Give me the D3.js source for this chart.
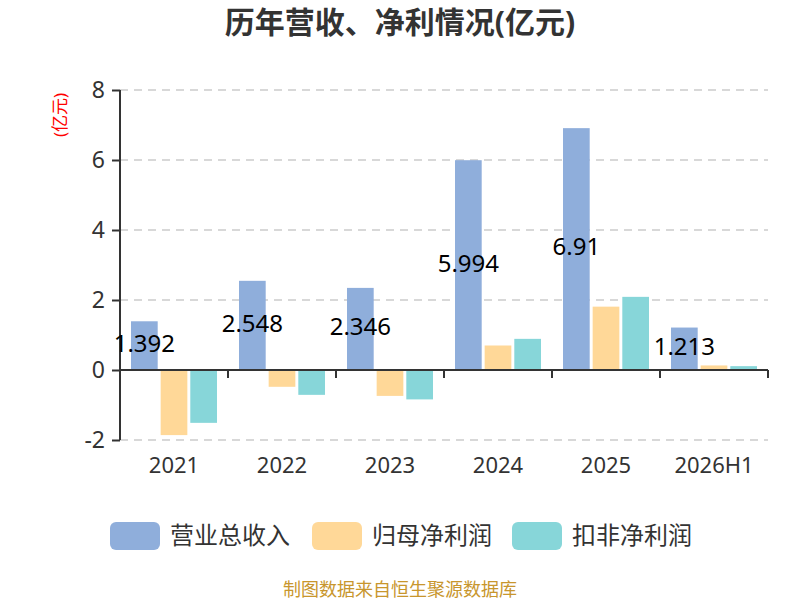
<!DOCTYPE html>
<html>
<head>
<meta charset="utf-8">
<script src="https://cdn.jsdelivr.net/npm/d3@7"></script>
<style>
  body { margin: 0; background: #fff; }
  svg { font-family: 'Noto Sans', 'Noto Sans CJK SC', sans-serif; }
</style>
</head>
<body>
<svg id="chart" width="800" height="600"></svg>
<script>
const categories = ['2021', '2022', '2023', '2024', '2025', '2026H1']
const seriesNames = ['营业总收入', '归母净利润', '扣非净利润']
const revenue = [1.392, 2.548, 2.346, 5.994, 6.91, 1.213]
const netProfit = [-1.86, -0.48, -0.74, 0.70, 1.81, 0.13]
const deductedProfit = [-1.51, -0.71, -0.84, 0.89, 2.09, 0.11]
const yTicks = [-2, 0, 2, 4, 6, 8]
const colors = ['#8faedb', '#ffd898', '#87d6d9']

const series = [revenue, netProfit, deductedProfit]

const svg = d3.select('#chart')
const margin = { left: 120, right: 32, top: 90, bottom: 160 }
const width = 800

const x = d3.scaleBand()
  .domain(categories)
  .range([margin.left, width - margin.right])

const x1 = d3.scaleBand()
  .domain(d3.range(series.length))
  .range([11, x.bandwidth() - 11])
  .paddingInner(0.1)

const y = d3.scaleLinear()
  .domain([-2, 8])
  .range([440, margin.top])

// title
svg.append('text')
  .attr('x', 400).attr('y', 33)
  .attr('text-anchor', 'middle')
  .attr('font-size', 30).attr('font-weight', 'bold')
  .attr('fill', '#333')
  .text('历年营收、净利情况(亿元)')

// y axis name
svg.append('text')
  .attr('transform', 'translate(66,115) rotate(-90)')
  .attr('text-anchor', 'middle')
  .attr('font-size', 17)
  .attr('fill', 'red')
  .text('(亿元)')

// grid
svg.append('g')
  .selectAll('line')
  .data(yTicks.filter(d => d !== 0))
  .join('line')
  .attr('x1', margin.left).attr('x2', width - margin.right)
  .attr('y1', d => y(d)).attr('y2', d => y(d))
  .attr('stroke', '#ccc').attr('stroke-width', 1.5)
  .attr('stroke-dasharray', '8,6')

// y axis
const yAxis = svg.append('g')
  .attr('transform', `translate(${margin.left},0)`)
  .call(d3.axisLeft(y).tickValues(yTicks).tickSize(8).tickPadding(7).tickFormat(d => String(d)))
yAxis.select('.domain').attr('stroke', '#333').attr('stroke-width', 2)
  .attr('d', `M0,${y(-2)}V${y(8)}`)
yAxis.selectAll('.tick line').attr('stroke', '#333').attr('stroke-width', 2)
yAxis.selectAll('.tick text').attr('fill', '#333').attr('font-size', 23)
  .attr('font-family', "'Noto Sans', sans-serif")

// bars
const groups = svg.append('g')
  .selectAll('g')
  .data(categories)
  .join('g')
  .attr('transform', d => `translate(${x(d)},0)`)

groups.selectAll('rect')
  .data((d, i) => series.map((s, k) => ({ k, v: s[i] })))
  .join('rect')
  .attr('x', d => x1(d.k))
  .attr('width', x1.bandwidth())
  .attr('y', d => Math.min(y(d.v), y(0)))
  .attr('height', d => Math.abs(y(d.v) - y(0)))
  .attr('fill', d => colors[d.k])

// value labels on revenue
svg.append('g')
  .selectAll('text')
  .data(categories)
  .join('text')
  .attr('x', (d) => x(d) + x1(0) + x1.bandwidth() / 2)
  .attr('y', (d, i) => (y(revenue[i]) + y(0)) / 2 - 2)
  .attr('dy', '0.35em')
  .attr('text-anchor', 'middle')
  .attr('font-size', 24)
  .attr('fill', '#000')
  .text((d, i) => revenue[i])

// x axis at zero
const xAxis = svg.append('g')
  .attr('transform', `translate(0,${y(0)})`)
  .call(d3.axisBottom(x).tickSize(0).tickPadding(0))
xAxis.select('.domain').attr('stroke', '#333').attr('stroke-width', 2)
  .attr('d', `M${margin.left},0H${width - margin.right}`)
xAxis.selectAll('.tick text')
  .attr('y', y(-2) - y(0) + 17)
  .attr('fill', '#333').attr('font-size', 22)
  .attr('font-family', "'Noto Sans', sans-serif")
xAxis.selectAll('.boundary')
  .data(d3.range(categories.length + 1))
  .join('line')
  .attr('x1', i => margin.left + i * x.step())
  .attr('x2', i => margin.left + i * x.step())
  .attr('y1', 0).attr('y2', 8)
  .attr('stroke', '#333').attr('stroke-width', 2)

// legend
const legendX = [110, 312, 512]
const legend = svg.append('g')
  .selectAll('g')
  .data(seriesNames)
  .join('g')
  .attr('transform', (d, i) => `translate(${legendX[i]},522)`)
legend.append('rect')
  .attr('width', 50).attr('height', 28).attr('rx', 6)
  .attr('fill', (d, i) => colors[i])
legend.append('text')
  .attr('x', 60).attr('y', 14).attr('dy', '0.35em')
  .attr('font-size', 24).attr('fill', '#333')
  .text(d => d)

// footer
svg.append('text')
  .attr('x', 400).attr('y', 590)
  .attr('dy', '0.35em')
  .attr('text-anchor', 'middle')
  .attr('font-size', 18)
  .attr('fill', '#c8962d')
  .text('制图数据来自恒生聚源数据库')
</script>
</body>
</html>
